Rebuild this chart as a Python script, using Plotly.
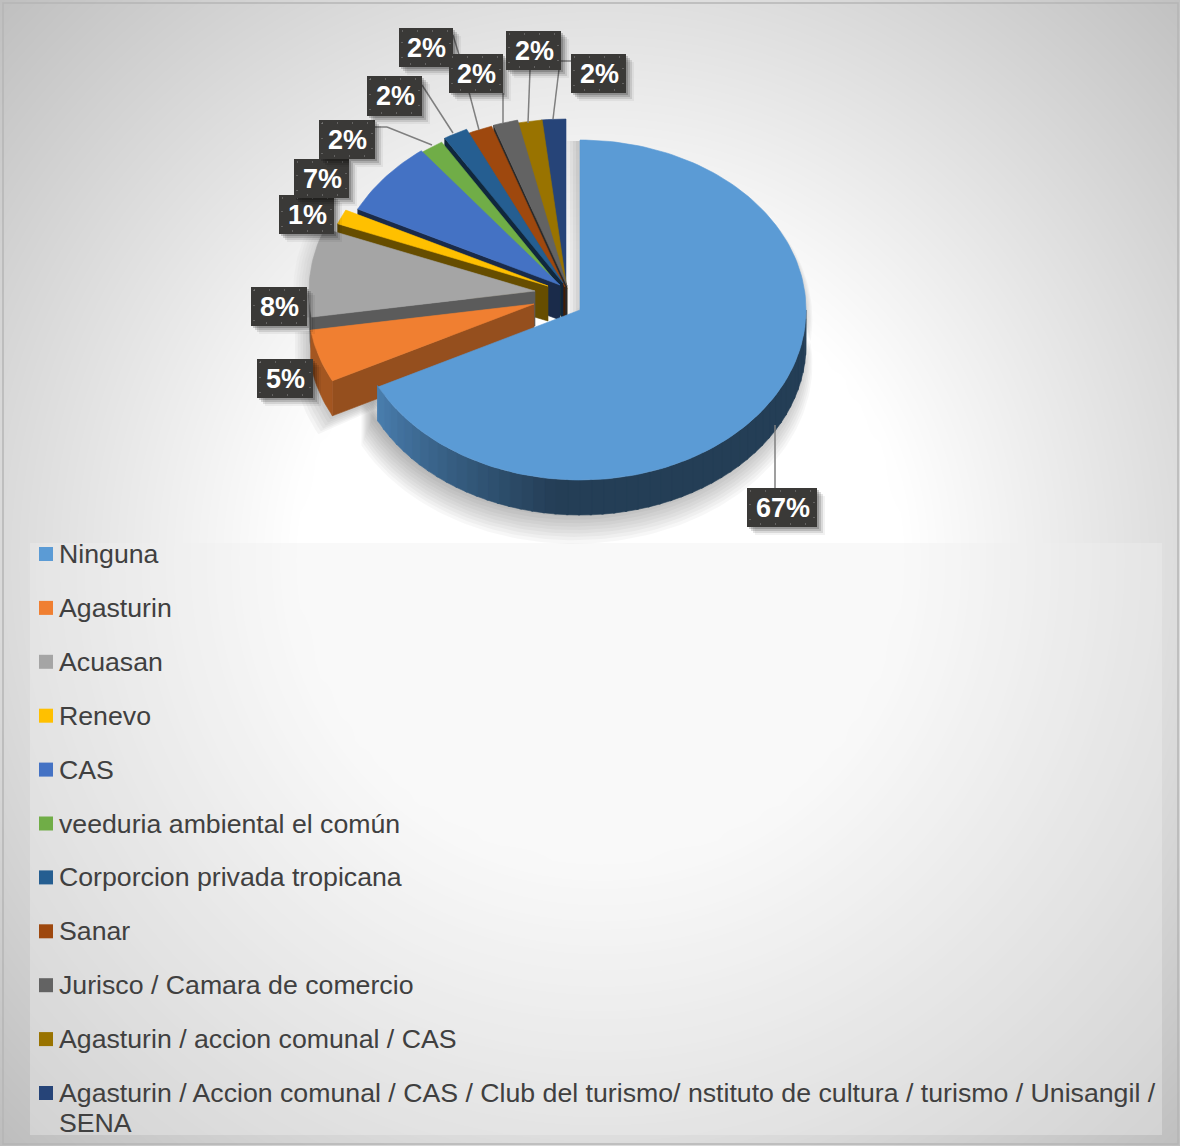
import math
import numpy as np
import plotly.graph_objects as go

# ---- data ----
categories = ["Ninguna", "Agasturin", "Acuasan", "Renevo", "CAS", "veeduria ambiental el común",
              "Corporcion privada tropicana", "Sanar", "Jurisco / Camara de comercio",
              "Agasturin / accion comunal / CAS",
              "Agasturin / Accion comunal / CAS / Club del turismo/ nstituto de cultura / turismo / Unisangil /\nSENA"]
values = [67.4, 5.0, 8.4, 1.4, 7.1, 1.75, 1.75, 1.75, 1.75, 1.75, 1.75]
percent_labels = ["67%", "5%", "8%", "1%", "7%", "2%", "2%", "2%", "2%", "2%", "2%"]

# ---- style and layout ----
colors = ["#5b9bd5", "#f07f31", "#a5a5a5", "#ffc000", "#4472c4", "#70ad47",
          "#255e91", "#9e480e", "#636363", "#997300", "#264478"]
face_shade = [0.6, 0.62, 0.55, 0.4, 0.38, 0.42, 0.42, 0.42, 0.42, 0.42, 0.42]
W, H = 1180, 1146
RX, RY, DEPTH = 226, 170, 35
apexes = [(580, 310), (534, 304), (535, 291), (548, 286), (560, 285), (560, 287),
          (563, 283), (565, 287), (567, 286), (567, 289), (566, 289)]
label_boxes = [(747, 488, 817, 527), (257, 359, 313, 398), (251, 287, 307, 326), (279, 195, 334, 234),
               (294, 159, 349, 198), (319, 120, 375, 159), (367, 76, 422, 116), (399, 28, 453, 67),
               (449, 54, 503, 93), (506, 31, 561, 70), (571, 54, 626, 93)]
leaders = [[(775, 425), (775, 488)], [], [], [], [],
           [(375, 127), (387, 127), (432, 145)], [(422, 85), (453, 133)],
           [(453, 35), (460, 58), (479, 130)], [(503, 93), (503, 123)],
           [(530, 70), (528, 123)], [(571, 61), (560, 61), (553, 119)]]


def darken(hex_color, f):
    r, g, b = (int(hex_color[i:i + 2], 16) for i in (1, 3, 5))
    return f"rgb({r * f:.0f},{g * f:.0f},{b * f:.0f})"


def pt(a, ang, r=1.0, dy=0.0):
    t = math.radians(ang)
    return a[0] + RX * r * math.sin(t), a[1] - RY * r * math.cos(t) + dy


def arc(a, a0, a1, r=1.0, dy=0.0):
    n = max(2, int(abs(a1 - a0) / 1.5) + 1)
    return [pt(a, a0 + (a1 - a0) * i / (n - 1), r, dy) for i in range(n)]


def poly(points, fill, line=True):
    xs = [p[0] for p in points] + [points[0][0]]
    ys = [p[1] for p in points] + [points[0][1]]
    return go.Scatter(x=xs, y=ys, mode="lines", fill="toself", fillcolor=fill,
                      line=dict(color=fill, width=0.6 if line else 0), hoverinfo="skip", showlegend=False)


fig = go.Figure()

# page background: a soft radial fade behind everything
gx = np.arange(0, W + 21, 20)
gy = np.arange(0, H + 21, 20)
xx, yy = np.meshgrid(gx, gy)
rr = np.hypot(xx - 600, yy - 560)
zz = np.clip(1 - (rr - 300) * 0.000478, 0.7, 1)
fig.add_trace(go.Heatmap(x=gx, y=gy, z=zz, zmin=0.7, zmax=1, zsmooth="best", showscale=False, hoverinfo="skip",
                         colorscale=[[0, "rgb(178,178,178)"], [1, "rgb(255,255,255)"]]))

# legend panel
fig.add_trace(poly([(30, 543), (1162, 543), (1162, 1135), (30, 1135)], "rgba(240,240,240,0.38)", line=False))

# slice angles, clockwise from 12 o'clock
total = sum(values)
edges = [0.0]
for v in values:
    edges.append(edges[-1] + v / total * 360)

# soft shadows
for k in range(10):
    s = k / 9
    scale = 1 + 0.055 * s
    a = (580 - 6, 310 + RY * (scale - 1))
    fig.add_trace(poly([a] + arc(a, 60, edges[1], scale) + arc(a, edges[1], 60, scale, DEPTH - 2 + 12 * s),
                       "rgba(0,0,0,0.03)", line=False))
for k in range(4):
    fig.add_trace(poly([(580 - 4 - 3 * k, 141), (581, 141), (581, 315), (580 - 4 - 3 * k, 315)],
                       "rgba(0,0,0,0.045)", line=False))
for k in range(6):
    scale = 1.01 + 0.012 * k
    a = apexes[1]
    fig.add_trace(poly([(a[0], a[1] + DEPTH)] + arc(a, edges[1], edges[2], scale, DEPTH + 3 + 2 * k) + [pt(a, edges[2], scale)],
                       "rgba(0,0,0,0.035)", line=False))
    a = apexes[2]
    fig.add_trace(poly([a] + arc(a, edges[2], edges[3], scale), "rgba(0,0,0,0.02)", line=False))

# slices, painted back to front
for i in list(range(len(values) - 1, 0, -1)) + [0]:
    a, a0, a1 = apexes[i], edges[i], edges[i + 1]
    if i > 0:
        p0 = pt(a, a0)
        fig.add_trace(poly([a, p0, (p0[0], p0[1] + DEPTH), (a[0], a[1] + DEPTH)], darken(colors[i], face_shade[i])))
        w0, w1 = max(a0, 90), min(a1, 270)
        if w1 > w0:
            fig.add_trace(poly(arc(a, w0, w1) + arc(a, w1, w0, 1, DEPTH), darken(colors[i], face_shade[i] + 0.06)))
    else:
        steps = list(np.arange(90, a1, 3)) + [a1]
        for s0, s1 in zip(steps[:-1], steps[1:]):
            t = min(max((s0 - 185) / (a1 - 185), 0), 1)
            c = f"rgb({36 + 38 * t:.0f},{62 + 65 * t:.0f},{86 + 90 * t:.0f})"
            fig.add_trace(poly(arc(a, s0, s1 + 0.5) + arc(a, s1 + 0.5, s0, 1, DEPTH), c))
    fig.add_trace(poly([a] + arc(a, a0, a1), colors[i]))

# legend swatches
rows = [554 + 53.9 * i for i in range(len(categories))]
fig.add_trace(go.Scatter(x=[46] * len(rows), y=rows, mode="markers", hoverinfo="skip", showlegend=False,
                         marker=dict(symbol="square", size=14, color=colors, line=dict(width=0))))

shapes, annotations = [], []
for path in leaders:
    for (x0, y0), (x1, y1) in zip(path[:-1], path[1:]):
        shapes.append(dict(type="line", x0=x0, y0=y0, x1=x1, y1=y1, line=dict(color="#7f7f7f", width=1.5)))
for txt, (x0, y0, x1, y1) in zip(percent_labels, label_boxes):
    for off, alpha in ((8, 0.05), (6, 0.1), (4, 0.14), (2, 0.18)):
        shapes.append(dict(type="rect", x0=x0 + off, y0=y0 + off, x1=x1 + off, y1=y1 + off,
                           fillcolor=f"rgba(0,0,0,{alpha})", line=dict(width=0)))
    shapes.append(dict(type="rect", x0=x0, y0=y0, x1=x1, y1=y1, fillcolor="#3a3937", line=dict(width=0)))
    shapes.append(dict(type="rect", x0=x0 + 3, y0=y0 + 3, x1=x1 - 3, y1=y1 - 3, fillcolor="rgba(0,0,0,0)",
                       line=dict(color="#8c8c8c", width=1, dash="1px,14px")))
    annotations.append(dict(x=(x0 + x1) / 2 + 0.5, y=(y0 + y1) / 2, text=f"<b>{txt}</b>", showarrow=False,
                            xanchor="center", yanchor="middle",
                            font=dict(family="Liberation Sans", size=27, color="white")))

for name, row in zip(categories, rows):
    for j, part in enumerate(name.split("\n")):
        annotations.append(dict(x=56.5, y=row + 30 * j, text=part, showarrow=False, xanchor="left", yanchor="middle",
                                font=dict(family="Liberation Sans", size=26.7, color="#404040")))

shapes.append(dict(type="rect", x0=3, y0=3, x1=W - 2, y1=H - 2, fillcolor="rgba(0,0,0,0)",
                   line=dict(color="#b5b5b5", width=1.5)))

fig.update_layout(width=W, height=H, margin=dict(l=0, r=0, t=0, b=0), paper_bgcolor="white", plot_bgcolor="white",
                  showlegend=False, shapes=shapes, annotations=annotations,
                  xaxis=dict(range=[0, W], visible=False, fixedrange=True),
                  yaxis=dict(range=[H, 0], visible=False, fixedrange=True))

fig.write_html("out.html", config=dict(displayModeBar=False),
               post_script="document.body.style.margin='0';document.body.style.overflow='hidden';")
